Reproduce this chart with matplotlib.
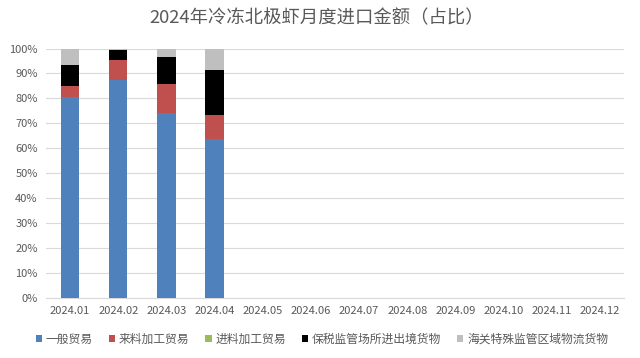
import matplotlib
matplotlib.use('Agg')
import matplotlib.pyplot as plt
import numpy as np

plt.rcParams['font.family'] = ['Noto Sans CJK SC', 'DejaVu Sans']

months = ['2024.01', '2024.02', '2024.03', '2024.04', '2024.05', '2024.06',
          '2024.07', '2024.08', '2024.09', '2024.10', '2024.11', '2024.12']

# shares in %, only Jan-Apr have data
general = [80.7, 87.5, 73.9, 63.5]
incoming = [4.3, 7.8, 11.9, 9.6]
imported = [0.0, 0.0, 0.0, 0.0]
bonded = [8.2, 3.9, 10.6, 18.2]
special = [6.8, 0.8, 3.6, 8.7]

names = ['一般贸易', '来料加工贸易', '进料加工贸易', '保税监管场所进出境货物', '海关特殊监管区域物流货物']
colors = ['#4F81BD', '#C0504D', '#9BBB59', '#000000', '#BFBFBF']

fig = plt.figure(figsize=(6.4, 3.58), dpi=100)
ax = fig.add_axes([46/640, 1 - 297.5/358, 578/640, 249/358])

x = np.arange(len(months))
bottom = np.zeros(len(months))
for vals, name, c in zip([general, incoming, imported, bonded, special], names, colors):
    v = np.zeros(len(months))
    v[:len(vals)] = vals
    ax.bar(x, v, 0.38, bottom=bottom, color=c, label=name, zorder=3)
    bottom += v

ax.set_xlim(-0.5, len(months) - 0.5)
ax.set_ylim(0, 100)
ax.set_yticks(range(0, 101, 10))
ax.set_yticklabels([f'{t}%' for t in range(0, 101, 10)])
ax.set_xticks(x)
ax.set_xticklabels(months)
ax.grid(axis='y', color='#D9D9D9', linewidth=0.8, zorder=0)
for s in ['top', 'right', 'left']:
    ax.spines[s].set_visible(False)
ax.spines['bottom'].set_color('#D9D9D9')
ax.tick_params(length=0, labelsize=8, colors='#595959', pad=6)

fig.text(0.494, 0.948, '2024年冷冻北极虾月度进口金额（占比）', ha='center', va='center',
         fontsize=13.2, color='#595959')

fig.legend(loc='center', bbox_to_anchor=(0.503, 1 - 339/358), ncol=5, frameon=False,
           fontsize=8.5, handlelength=0.55, handleheight=0.55, handletextpad=0.3,
           columnspacing=1.35, labelcolor='#595959')

fig.savefig('out.png', dpi=100)
